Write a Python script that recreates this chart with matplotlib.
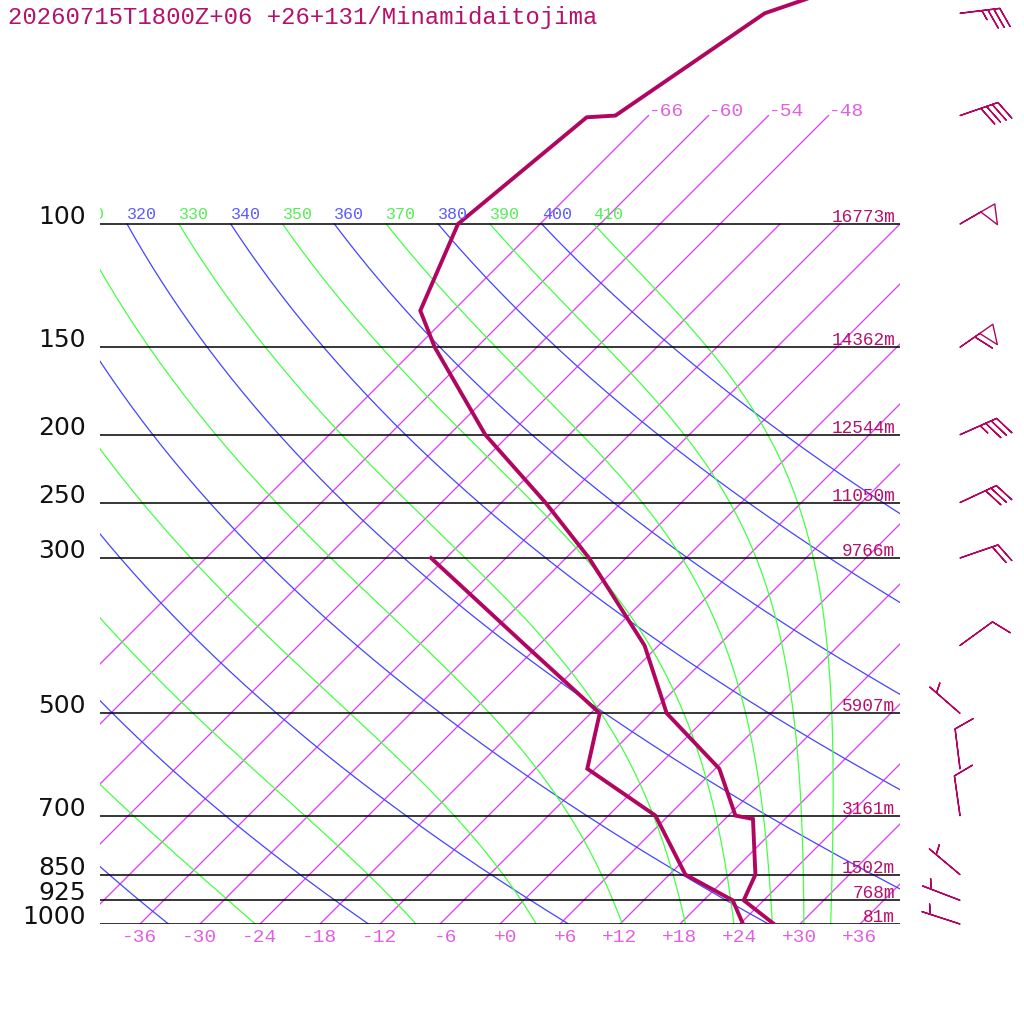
import numpy as np
import matplotlib
matplotlib.use("Agg")
import matplotlib.pyplot as plt
from matplotlib import transforms

# sounding
title = "20260715T1800Z+06 +26+131/Minamidaitojima"

temp_p = [40, 50, 70, 70.4, 100, 133, 150, 200, 250, 300, 400, 500, 600, 700, 708, 850, 925, 1000]
temp_c = [-51.6, -64.6, -69.3, -72.0, -74.2, -69.3, -64.2, -50.4, -37.6, -27.7, -13.4, -4.4,
          6.4, 12.7, 14.8, 20.6, 22.0, 27.4]

dewp_p = [300, 400, 500, 600, 700, 850, 925, 1000]
dewp_c = [-43.5, -25.3, -11.1, -6.8, 4.7, 13.6, 20.9, 24.3]

wind_p = [50, 70, 100, 150, 200, 250, 300, 400, 500, 600, 700, 850, 925, 1000]
wind_dir = [83, 71, 60, 55, 66, 65, 71, 54, 311, 353, 352, 310, 291, 288]
wind_kt = [35, 40, 50, 60, 35, 30, 20, 10, 5, 10, 10, 5, 5, 5]

levels = [1000, 925, 850, 700, 500, 300, 250, 200, 150, 100]
heights = [81, 768, 1502, 3161, 5907, 9766, 11050, 12544, 14362, 16773]

isotherms = list(range(-66, 37, 6))
dry_theta = list(range(240, 401, 20))
moist_theta = list(range(250, 411, 20))

# colours
PROF_C = "#b0065f"
TEXT_C = "#b4106c"
ISO_C = "#dd44ee"
ISO_TXT = "#e060e0"
DRY_C = "#4444ff"
DRY_TXT = "#5a5aff"
MOIST_C = "#44ff44"
MOIST_TXT = "#55ee55"
MONO = "Liberation Mono"

# skew: 70 deg C of x shift between 1000 and 100 hPa
SKEW = 70 / np.log(10)
P_TOP = 1000 * np.exp(-92.4 / SKEW)

Rd, Cp, Lv, EPS = 287.04, 1005.7, 2.501e6, 0.622
KAPPA = Rd / Cp


def skew(t, p):
    return np.asarray(t, float) + SKEW * np.log(1000 / np.asarray(p, float))


def moist_lapse(t, p):
    es = 6.112 * np.exp(17.67 * (t - 273.15) / (t - 29.65))
    rs = EPS * es / (p - es)
    return (Rd * t + Lv * rs) / (Cp + Lv * Lv * rs * EPS / (Rd * t * t))


def moist_adiabat(theta, p):
    # pseudo-adiabat that has temperature theta*(p/1000)^k at the first pressure
    lnp = np.log(p)
    t = np.empty_like(p)
    t[0] = theta * (p[0] / 1000) ** KAPPA
    for i in range(1, len(p)):
        h = lnp[i] - lnp[i - 1]
        pm = np.exp(lnp[i - 1] + h / 2)
        k1 = moist_lapse(t[i - 1], p[i - 1])
        k2 = moist_lapse(t[i - 1] + h / 2 * k1, pm)
        k3 = moist_lapse(t[i - 1] + h / 2 * k2, pm)
        k4 = moist_lapse(t[i - 1] + h * k3, p[i])
        t[i] = t[i - 1] + h / 6 * (k1 + 2 * k2 + 2 * k3 + k4)
    return t


fig = plt.figure(figsize=(10.24, 10.24), dpi=100)
ax = fig.add_axes([100 / 1024, 100 / 1024, 800 / 1024, 924 / 1024])
ax.set_yscale("log")
ax.axis("off")

up5 = transforms.offset_copy(ax.transData, fig=fig, x=0, y=5, units="dots")
up2 = transforms.offset_copy(ax.transData, fig=fig, x=0, y=2, units="dots")
down18 = transforms.offset_copy(ax.transData, fig=fig, x=0, y=-18, units="dots")

# isotherms
for t in isotherms:
    ptop = 70 if t <= -48 else 100
    pp = np.array([1000, ptop])
    ax.plot(skew([t, t], pp), pp, color=ISO_C, lw=0.95)
    if t <= -48:
        ax.text(skew(t, 70), 70, f"{t:+d}", color=ISO_TXT, family=MONO, fontsize=14,
                ha="left", va="baseline")


def adiabat_label(x, th, color):
    # only labels that reach into the plot; the rest would be clipped away
    if x > -43:
        ax.text(x, 100, str(th), transform=up5, color=color, family=MONO, fontsize=12,
                ha="left", va="baseline", clip_on=True)


# adiabats, 100 to 1000 hPa
pgrid = np.geomspace(100, 1000, 300)
for th in dry_theta:
    tk = th * (pgrid / 1000) ** KAPPA
    ax.plot(skew(tk - 273.15, pgrid), pgrid, color=DRY_C, lw=0.9)
    adiabat_label(skew(tk[0] - 273.15, 100), th, DRY_TXT)
for th in moist_theta:
    tk = moist_adiabat(th, pgrid)
    ax.plot(skew(tk - 273.15, pgrid), pgrid, color=MOIST_C, lw=0.9)
    adiabat_label(skew(tk[0] - 273.15, 100), th, MOIST_TXT)

# pressure levels
for p, h in zip(levels, heights):
    ax.plot([-40, 40], [p, p], color="black", lw=1.1)
    ax.text(39.5, p, f"{h}m", transform=up2, color=TEXT_C, family=MONO, fontsize=12.8,
            ha="right", va="baseline")
    ax.text(-41.4, p, str(p), color="#111111", family="DejaVu Sans", fontsize=18,
            ha="right", va="baseline", clip_on=False)

# temperature labels along the bottom
for t in range(-36, 37, 6):
    ax.text(skew(t, 1000) + 1.75, 1000, f"{t:+d}", transform=down18, color=ISO_TXT,
            family=MONO, fontsize=14, ha="right", va="baseline", clip_on=False)

# profiles
ax.plot(skew(temp_c, temp_p), temp_p, color=PROF_C, lw=2.8, solid_joinstyle="miter")
ax.plot(skew(dewp_c, dewp_p), dewp_p, color=PROF_C, lw=2.8, solid_joinstyle="miter")

# wind barbs
wd = np.radians(wind_dir)
spd = np.array(wind_kt, float)
ax.barbs(np.full(len(wind_p), 46.0), wind_p, -spd * np.sin(wd), -spd * np.cos(wd),
         length=7.6, pivot="tip", barbcolor=PROF_C, flagcolor="none", linewidth=1.0,
         sizes=dict(spacing=0.15, height=0.48, width=0.4), clip_on=False)

ax.set_xlim(-40, 40)
ax.set_ylim(1000, P_TOP)

fig.text(8 / 1024, 1 - 24 / 1024, title, family=MONO, fontsize=17.2, color=TEXT_C,
         va="baseline")

fig.savefig("out.png", dpi=100)
